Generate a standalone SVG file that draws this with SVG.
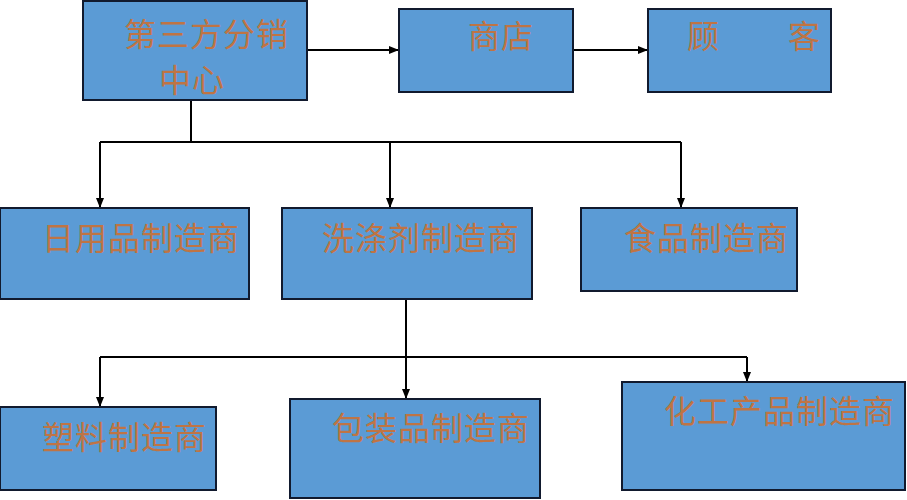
<svg xmlns="http://www.w3.org/2000/svg" width="907" height="500" viewBox="0 0 907 500">
<defs>
<marker id="ah" markerWidth="10" markerHeight="10" refX="9" refY="5" orient="auto" markerUnits="userSpaceOnUse">
<path d="M0,1 L10,5 L0,9 Z" fill="#000"/>
</marker>
<style>
.box{fill:#5B9BD5;stroke:#111a2e;stroke-width:2}
.t{font-family:"Noto Sans CJK SC","Noto Sans",sans-serif;font-size:32px;letter-spacing:1px;fill:#BF7444}
.c{fill:none;stroke:#000;stroke-width:2}
</style>
</defs>
<rect width="907" height="500" fill="#fff"/>
<g id="connectors">
<path class="c" d="M307,50 L398,50" marker-end="url(#ah)"/>
<path class="c" d="M573,50 L647,50" marker-end="url(#ah)"/>
<path class="c" d="M191,100 L191,142"/>
<path class="c" d="M100,142 L681,142"/>
<path class="c" d="M100,142 L100,207" marker-end="url(#ah)"/>
<path class="c" d="M390,142 L390,207" marker-end="url(#ah)"/>
<path class="c" d="M681,142 L681,207" marker-end="url(#ah)"/>
<path class="c" d="M406,299 L406,398" marker-end="url(#ah)"/>
<path class="c" d="M100,357 L747,357"/>
<path class="c" d="M100,357 L100,406" marker-end="url(#ah)"/>
<path class="c" d="M747,357 L747,381" marker-end="url(#ah)"/>
</g>
<g id="n1"><rect class="box" x="83" y="1" width="224" height="99"/><text class="t" x="124" y="46">第三方分销</text><text class="t" x="159" y="92">中心</text></g>
<g id="n2"><rect class="box" x="399" y="9" width="174" height="83"/><text class="t" x="468" y="48">商店</text></g>
<g id="n3"><rect class="box" x="648" y="9" width="183" height="83"/><text class="t" y="48"><tspan x="687">顾</tspan><tspan x="788">客</tspan></text></g>
<g id="n4"><rect class="box" x="0" y="208" width="249" height="91"/><text class="t" x="42" y="250">日用品制造商</text></g>
<g id="n5"><rect class="box" x="282" y="208" width="250" height="91"/><text class="t" x="322" y="250">洗涤剂制造商</text></g>
<g id="n6"><rect class="box" x="581" y="208" width="216" height="83"/><text class="t" x="624" y="250">食品制造商</text></g>
<g id="n7"><rect class="box" x="0" y="407" width="216" height="83"/><text class="t" x="42" y="449">塑料制造商</text></g>
<g id="n8"><rect class="box" x="290" y="399" width="250" height="99"/><text class="t" x="332" y="440">包装品制造商</text></g>
<g id="n9"><rect class="box" x="622" y="382" width="283" height="108"/><text class="t" x="664" y="423">化工产品制造商</text></g>
</svg>
